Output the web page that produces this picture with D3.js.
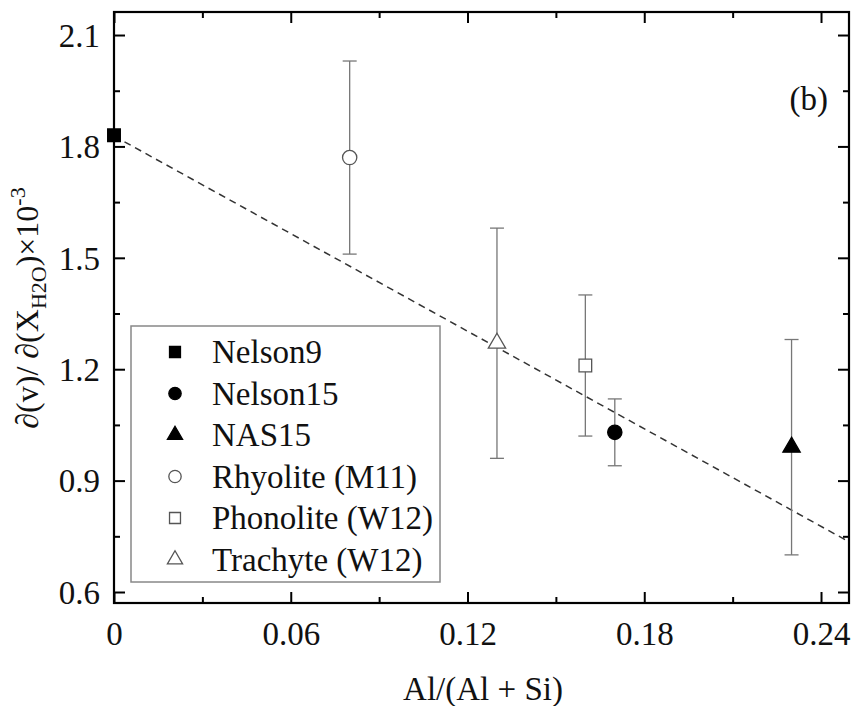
<!DOCTYPE html>
<html>
<head>
<meta charset="utf-8">
<script src="https://cdnjs.cloudflare.com/ajax/libs/d3/7.8.5/d3.min.js"></script>
<style>
body { margin: 0; background: #fff; }
svg text { font-family: "Liberation Serif", "Times New Roman", serif; fill: #111; }
</style>
</head>
<body>
<div class="Chart"></div>
<script>
// series
var names = ["Nelson9", "Nelson15", "NAS15", "Rhyolite (M11)", "Phonolite (W12)", "Trachyte (W12)"];
var symbols = ["square", "circle", "triangle", "circle", "square", "triangle"];
var filled = [true, true, true, false, false, false];
var xVals = [0, 0.17, 0.23, 0.08, 0.16, 0.13];
var yVals = [1.83, 1.03, 0.99, 1.77, 1.21, 1.27];
var yLow = [null, 0.94, 0.70, 1.51, 1.02, 0.96];
var yHigh = [null, 1.12, 1.28, 2.03, 1.40, 1.58];

// linear fit (dashed)
var fitIntercept = 1.828;
var fitSlope = -4.38;

var xTicks = [0, 0.06, 0.12, 0.18, 0.24];
var xTickLabels = ["0", "0.06", "0.12", "0.18", "0.24"];
var xMinor = [0.03, 0.09, 0.15, 0.21];
var yTicks = [0.6, 0.9, 1.2, 1.5, 1.8, 2.1];
var yMinor = [0.75, 1.05, 1.35, 1.65, 1.95];

var width = 853, height = 706;
var margin = {left: 114, top: 12, right: 4, bottom: 103};

var svg = d3.select('.Chart').append('svg')
	.attr('width', width)
	.attr('height', height);

var x = d3.scaleLinear().domain([0, 0.2495]).range([margin.left, width - margin.right]);
var y = d3.scaleLinear().domain([0.5704, 2.162]).range([height - margin.bottom, margin.top]);

var x0 = x.range()[0], x1 = x.range()[1], y0 = y.range()[0], y1 = y.range()[1];

// fit line
svg.append("line")
	.attr("x1", x(0)).attr("y1", y(fitIntercept))
	.attr("x2", x1).attr("y2", y(fitIntercept + fitSlope * x.domain()[1]))
	.style("stroke", "#333")
	.style("stroke-width", 1.5)
	.style("stroke-dasharray", "7,5");

// error bars
var idx = d3.range(names.length);
var err = svg.append("g").selectAll("g")
	.data(idx.filter(function(i){ return yLow[i] !== null; }))
	.enter().append("g")
	.style("stroke", "#777")
	.style("stroke-width", 1.3);
err.append("line")
	.attr("x1", function(i){ return x(xVals[i]); })
	.attr("x2", function(i){ return x(xVals[i]); })
	.attr("y1", function(i){ return y(yLow[i]); })
	.attr("y2", function(i){ return y(yHigh[i]); });
err.append("line")
	.attr("x1", function(i){ return x(xVals[i]) - 7; })
	.attr("x2", function(i){ return x(xVals[i]) + 7; })
	.attr("y1", function(i){ return y(yLow[i]); })
	.attr("y2", function(i){ return y(yLow[i]); });
err.append("line")
	.attr("x1", function(i){ return x(xVals[i]) - 7; })
	.attr("x2", function(i){ return x(xVals[i]) + 7; })
	.attr("y1", function(i){ return y(yHigh[i]); })
	.attr("y2", function(i){ return y(yHigh[i]); });

function symbolPath(i, size) {
	var t = symbols[i] === "square" ? d3.symbolSquare : symbols[i] === "circle" ? d3.symbolCircle : d3.symbolTriangle;
	return d3.symbol().type(t).size(size)();
}
function styleMarker(sel) {
	sel.style("fill", function(i){ return filled[i] ? "#000" : "#fff"; })
		.style("stroke", function(i){ return filled[i] ? "#000" : "#555"; })
		.style("stroke-width", 1.3);
}

// markers
svg.append("g").selectAll("path")
	.data(idx)
	.enter().append("path")
	.attr("transform", function(i){ return "translate(" + x(xVals[i]) + "," + y(yVals[i]) + ")"; })
	.attr("d", function(i){ return symbolPath(i, symbols[i] === "triangle" ? 130 : 160); })
	.call(styleMarker);

// axes with inward ticks on all sides
function tickAxis(axis, scale, major, minor, labels) {
	var g1 = svg.append("g").call(axis(scale).tickValues(major).tickSize(-11).tickFormat(labels ? function(d, i){ return labels[i]; } : d3.format(".1f")).tickPadding(14));
	var g2 = svg.append("g").call(axis(scale).tickValues(minor).tickSize(-6).tickFormat(""));
	[g1, g2].forEach(function(g){
		g.attr("font-family", null);
		g.select(".domain").remove();
		g.selectAll("line").style("stroke", "#000").style("stroke-width", 2);
		g.selectAll("text").style("font-size", "33px").attr("fill", "#111");
	});
	return [g1, g2];
}
var bx = tickAxis(d3.axisBottom, x, xTicks, xMinor, xTickLabels);
bx.forEach(function(g){ g.attr("transform", "translate(0," + y0 + ")"); });
var tx = tickAxis(d3.axisTop, x, xTicks, xMinor, null);
tx.forEach(function(g){ g.attr("transform", "translate(0," + y1 + ")"); g.selectAll("text").remove(); });
var ly = tickAxis(d3.axisLeft, y, yTicks, yMinor, null);
ly.forEach(function(g){ g.attr("transform", "translate(" + x0 + ",0)"); });
var ry = tickAxis(d3.axisRight, y, yTicks, yMinor, null);
ry.forEach(function(g){ g.attr("transform", "translate(" + x1 + ",0)"); g.selectAll("text").remove(); });
bx[0].selectAll("text").attr("dy", "0.85em");
ly[0].selectAll("text").attr("dy", "0.34em");

// frame
svg.append("rect")
	.attr("x", x0).attr("y", y1)
	.attr("width", x1 - x0).attr("height", y0 - y1)
	.style("fill", "none")
	.style("stroke", "#000")
	.style("stroke-width", 2.2);

// panel label
svg.append("text")
	.attr("x", 828).attr("y", 110)
	.attr("text-anchor", "end")
	.style("font-size", "33px")
	.text("(b)");

// axis titles
svg.append("text")
	.attr("x", 483).attr("y", 700)
	.attr("text-anchor", "middle")
	.style("font-size", "33px")
	.text("Al/(Al + Si)");

var yt = svg.append("text")
	.attr("transform", "translate(38,308) rotate(-90)")
	.attr("text-anchor", "middle")
	.style("font-size", "32px");
yt.append("tspan").text("\u2202(v)/ \u2202(X");
yt.append("tspan").attr("dy", 8).style("font-size", "22px").text("H2O");
yt.append("tspan").attr("dy", -8).text(")\u00d710");
yt.append("tspan").attr("dy", -13).style("font-size", "22px").text("-3");

// legend
var legend = svg.append("g");
legend.append("rect")
	.attr("x", 131).attr("y", 326)
	.attr("width", 309).attr("height", 256)
	.style("fill", "#fff")
	.style("stroke", "#888")
	.style("stroke-width", 1.5);
var row = legend.selectAll(".row")
	.data(idx)
	.enter().append("g")
	.attr("transform", function(i){ return "translate(0," + (352 + i * 41.5) + ")"; });
row.append("path")
	.attr("transform", "translate(175,0)")
	.attr("d", function(i){ return symbolPath(i, symbols[i] === "triangle" ? 100 : 120); })
	.call(styleMarker);
row.append("text")
	.attr("x", 212).attr("y", 0).attr("dy", "0.34em")
	.style("font-size", "33px")
	.text(function(i){ return names[i]; });
</script>
</body>
</html>
